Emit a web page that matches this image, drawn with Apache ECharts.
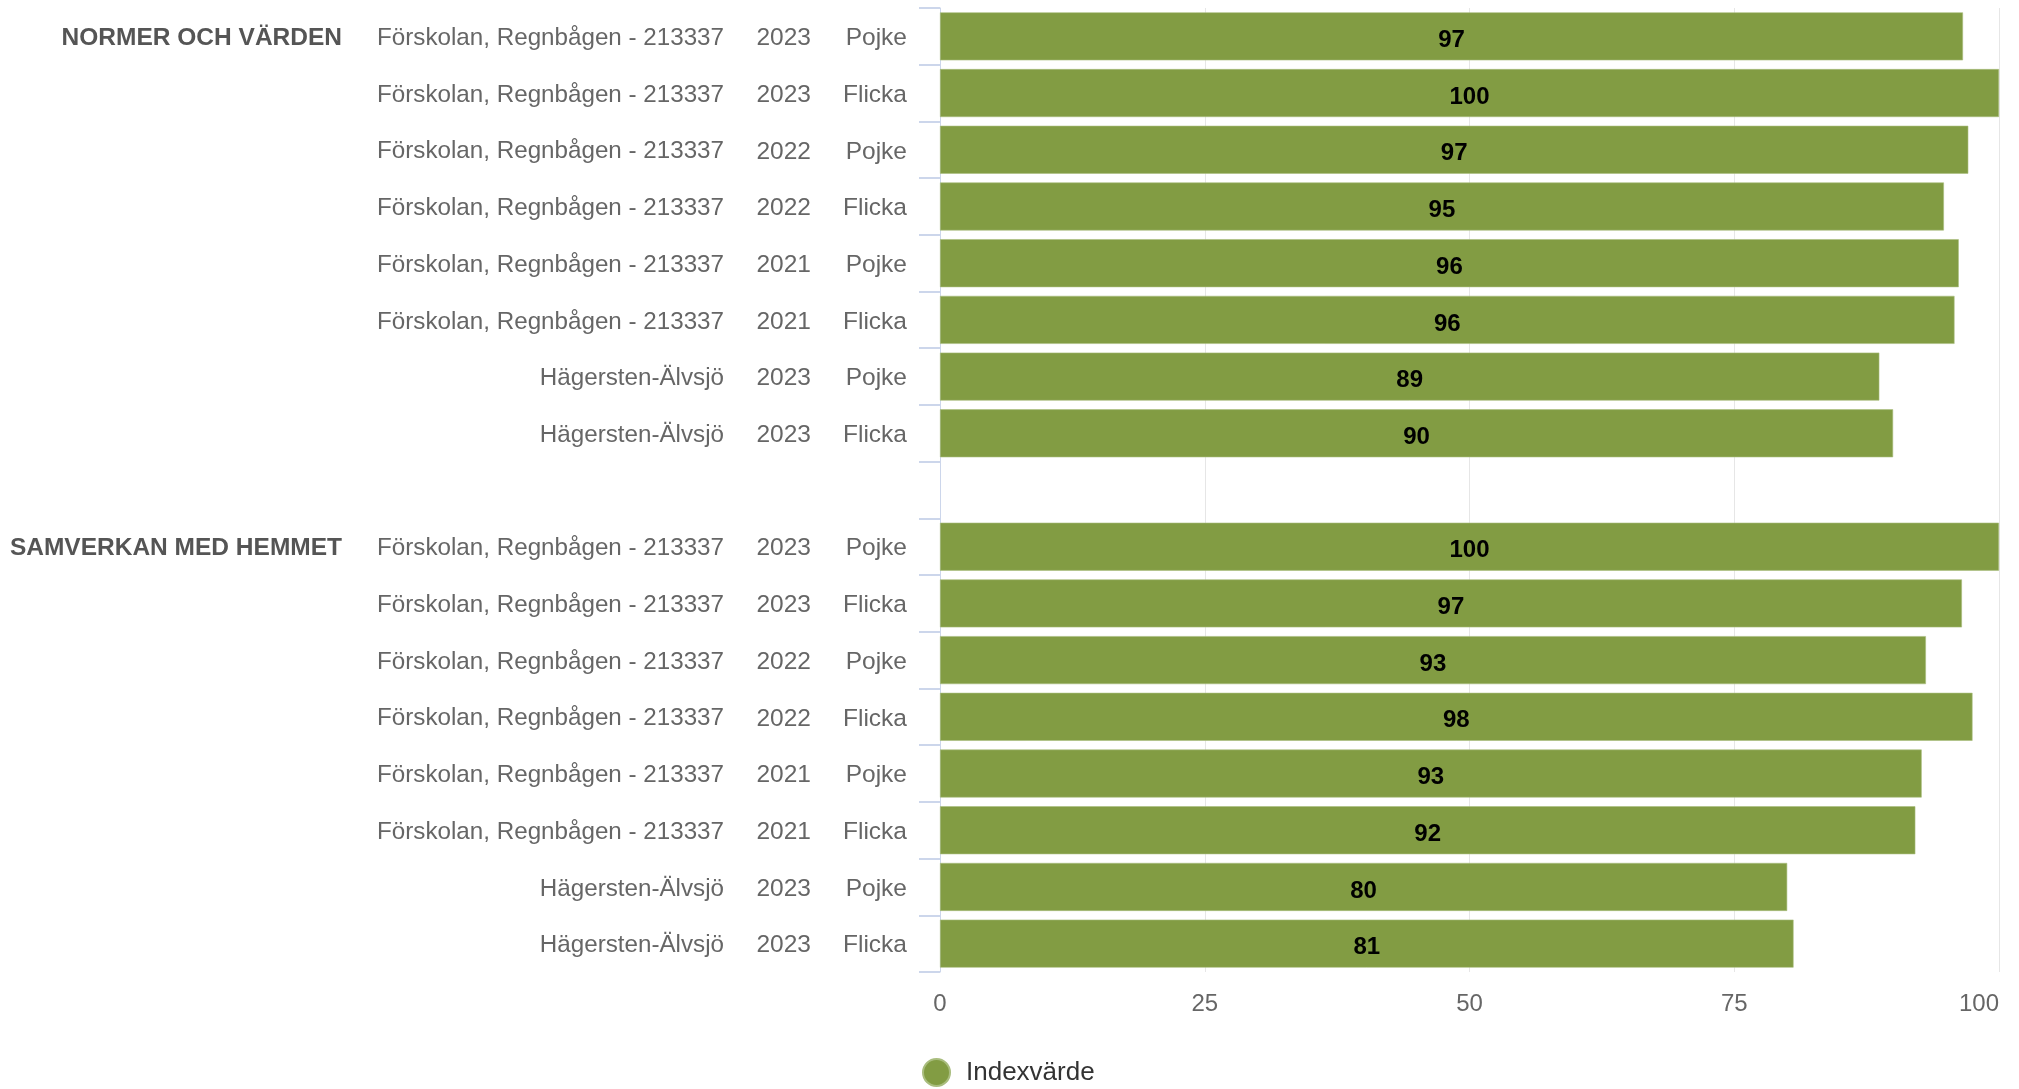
<!DOCTYPE html>
<html>
<head>
<meta charset="utf-8">
<script src="https://cdn.jsdelivr.net/npm/echarts@6/dist/echarts.min.js"></script>
<style>
html,body{margin:0;padding:0;background:#fff;}
#chart{width:2019px;height:1089px;}
</style>
</head>
<body>
<div id="chart"></div>
<script>
const groupNames = ['NORMER OCH VÄRDEN', 'SAMVERKAN MED HEMMET'];
const units = [
  'Förskolan, Regnbågen - 213337', 'Förskolan, Regnbågen - 213337',
  'Förskolan, Regnbågen - 213337', 'Förskolan, Regnbågen - 213337',
  'Förskolan, Regnbågen - 213337', 'Förskolan, Regnbågen - 213337',
  'Hägersten-Älvsjö', 'Hägersten-Älvsjö'
];
const years = ['2023', '2023', '2022', '2022', '2021', '2021', '2023', '2023'];
const genders = ['Pojke', 'Flicka', 'Pojke', 'Flicka', 'Pojke', 'Flicka', 'Pojke', 'Flicka'];
const normerValues = [96.6, 100, 97.1, 94.8, 96.2, 95.8, 88.7, 90.0];
const samverkanValues = [100, 96.5, 93.1, 97.5, 92.7, 92.1, 80.0, 80.6];
const xTicks = { min: 0, max: 100, interval: 25 };
const seriesName = 'Indexvärde';

const groupValues = [normerValues, samverkanValues];
const categories = [];
const labelInfo = {};
const values = [];
groupNames.forEach((g, gi) => {
  if (gi > 0) {
    const key = 'gap' + gi;
    categories.push(key);
    labelInfo[key] = null;
    values.push('-');
  }
  units.forEach((u, i) => {
    const key = 'g' + gi + '_' + i;
    categories.push(key);
    labelInfo[key] = { title: i === 0 ? g : '', unit: u, year: years[i], gender: genders[i] };
    values.push(groupValues[gi][i]);
  });
});

const chart = echarts.init(document.getElementById('chart'), null, { renderer: 'canvas' });
const FONT = '"Liberation Sans", Arial, Helvetica, sans-serif';
const FS = 24.5;
const FS_UNIT = 24.2;
const PAD = [4, 0, 0, 0];
chart.setOption({
  animation: false,
  textStyle: { fontFamily: FONT },
  grid: { left: 940, right: 20, top: 8, bottom: 117, containLabel: false },
  legend: {
    data: [seriesName],
    icon: 'circle',
    itemWidth: 27,
    itemHeight: 27,
    left: 917,
    top: 1053,
    textStyle: { fontSize: 26, color: '#333333', fontFamily: FONT, padding: [0, 0, 0, 11] }
  },
  xAxis: {
    type: 'value',
    min: xTicks.min,
    max: xTicks.max,
    interval: xTicks.interval,
    axisLine: { show: false },
    axisTick: { show: false },
    splitLine: { show: true, lineStyle: { color: '#e6e6e6', width: 1 } },
    axisLabel: { fontSize: 24, color: '#666666', margin: 20, fontFamily: FONT, alignMaxLabel: 'right' }
  },
  yAxis: {
    type: 'category',
    inverse: true,
    data: categories,
    axisLine: { show: true, lineStyle: { color: '#ccd6eb', width: 1 } },
    axisTick: { show: true, length: 21, lineStyle: { color: '#ccd6eb', width: 2 } },
    splitLine: { show: false },
    axisLabel: {
      margin: 33,
      interval: 0,
      fontFamily: FONT,
      formatter: function (key) {
        const info = labelInfo[key];
        if (!info) return '';
        return '{g|' + (info.title || ' ') + '}{s|' + info.unit + '}{y|' + info.year + '}{k|' + info.gender + '}';
      },
      rich: {
        g: { width: 300, align: 'right', fontSize: FS, fontWeight: 'bold', color: '#555555', fontFamily: FONT, padding: PAD },
        s: { width: 382, align: 'right', fontSize: FS_UNIT, color: '#666666', fontFamily: FONT, padding: PAD },
        y: { width: 87, align: 'right', fontSize: FS, color: '#666666', fontFamily: FONT, padding: PAD },
        k: { width: 96, align: 'right', fontSize: FS, color: '#666666', fontFamily: FONT, padding: PAD }
      }
    }
  },
  series: [{
    name: seriesName,
    type: 'bar',
    data: values,
    barWidth: 48,
    itemStyle: { color: '#829c43', borderColor: '#a9bd7e', borderWidth: 0.6 },
    label: {
      show: true,
      position: 'inside',
      offset: [0, 4],
      fontSize: 24,
      fontWeight: 'bold',
      color: '#000000',
      fontFamily: FONT,
      formatter: function (p) { return Math.round(p.value); }
    }
  }]
});
</script>
</body>
</html>
